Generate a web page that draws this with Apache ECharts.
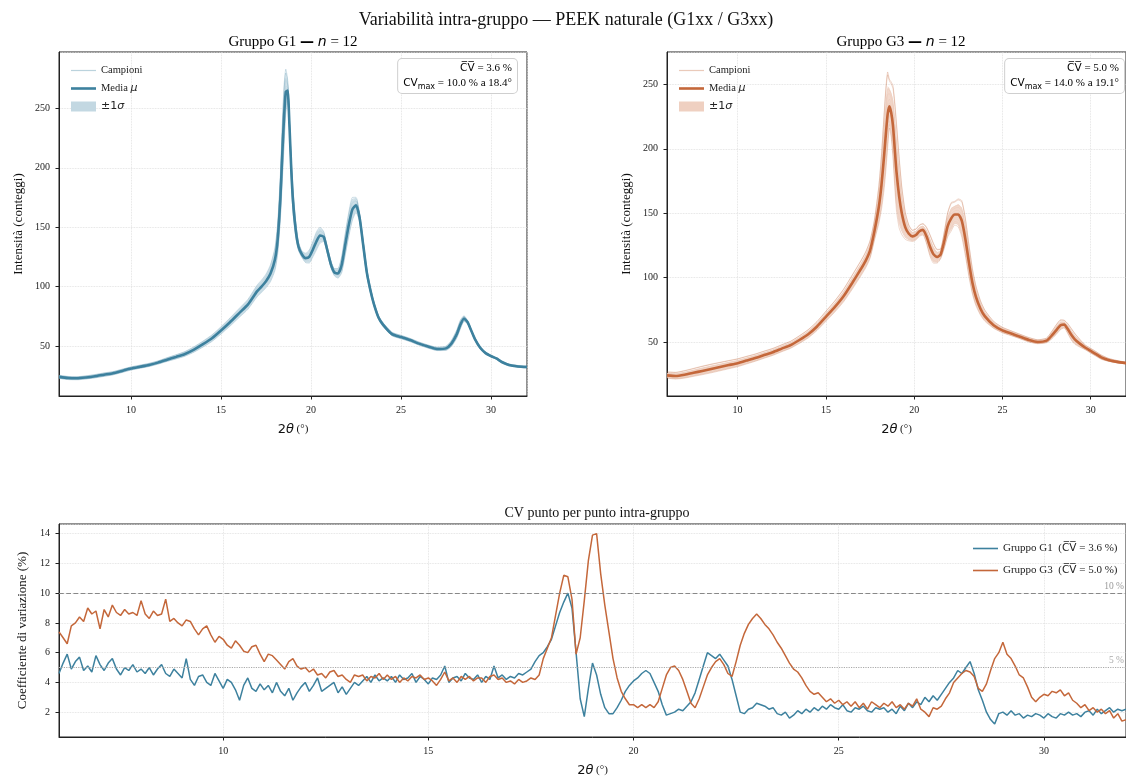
<!DOCTYPE html>
<html>
<head>
<meta charset="utf-8">
<script src="https://cdn.jsdelivr.net/npm/echarts@6/dist/echarts.min.js"></script>
<style>html,body{margin:0;padding:0;background:#fff}#chart{width:1126px;height:778px}</style>
</head>
<body>
<div id="chart"></div>
<script>
// 2theta grid of the averaged patterns (top panels)
var theta = [6, 6.5, 7, 7.5, 8, 8.5, 9, 9.5, 10, 10.5,
	11, 11.5, 12, 12.5, 13, 13.5, 14, 14.5, 15, 15.5,
	16, 16.5, 17, 17.25, 17.5, 17.75, 18, 18.15, 18.3, 18.4,
	18.5, 18.6, 18.7, 18.8, 18.9, 19.0, 19.15, 19.3, 19.5, 19.7,
	19.9, 20.1, 20.3, 20.5, 20.7, 20.9, 21.1, 21.3, 21.5, 21.7,
	21.9, 22.1, 22.3, 22.5, 22.7, 22.9, 23.1, 23.3, 23.5, 23.75,
	24, 24.5, 25, 25.5, 26, 26.5, 27, 27.5, 27.8, 28.1,
	28.3, 28.5, 28.7, 28.9, 29.1, 29.4, 29.7, 30, 30.3, 30.6,
	31, 31.5, 32];

var meanG1 = [24, 23, 22.8, 23.5, 24.5, 25.8, 27, 29, 31, 32.5,
	34, 36, 38.5, 40.8, 43.3, 47, 51.5, 56.5, 63, 70,
	77.5, 85, 96, 100, 104.5, 111, 123, 140, 175, 210,
	242, 264, 265, 237, 200, 172, 148, 134, 127, 124,
	125, 131, 138, 143, 142, 131, 119, 112, 111, 118,
	135, 152, 165, 168.5, 158, 135, 112, 97, 85, 74,
	68, 60, 57.5, 55, 52, 49.5, 47.5, 48, 52, 60,
	68, 73, 70, 63, 56, 48.5, 44, 41.5, 39.5, 36.5,
	34, 32.8, 32.3];

var meanG3 = [24, 23.5, 24.5, 26, 27.5, 29, 30.5, 32, 33.5, 35.5,
	37.5, 39.8, 42, 44.8, 47.5, 51.5, 56, 62, 69.5, 77,
	85.5, 96, 107, 113, 121, 136, 155, 172, 195, 212,
	227, 233, 228, 218, 200, 182, 163, 150, 139, 134,
	132, 133, 136, 137, 132, 124, 118, 116, 118, 128,
	140, 146, 149, 149, 144, 130, 112, 96, 85, 76,
	70, 63, 59, 56.5, 54, 51.5, 50, 51, 55, 60,
	63, 63.5, 60, 55.5, 52, 48.5, 45.5, 43, 40.5, 38,
	36, 34.5, 33.5];

// CV (%) on the same grid, used for the +-1 sigma band and the sample spread
var cvTopG1 = [5, 5, 5, 5, 5, 5, 4.5, 4.2, 3.8, 3.6,
	3.5, 3.3, 3.6, 3.8, 4, 4.2, 4.3, 4.3, 4.3, 4.3,
	4.3, 4.3, 4.5, 4.6, 4.8, 5.6, 6.8, 8, 9.4, 10,
	9.2, 6, 3, 1.8, 3.5, 5.2, 3.9, 2.3, 1.9, 2.8,
	3.8, 4.3, 4.8, 4.1, 2.6, 1.9, 2.1, 2.4, 3.2, 5,
	5.9, 5.8, 5.1, 3.3, 1.9, 2.3, 2.5, 2.2, 1.9, 1.8,
	2.1, 2.2, 2.2, 2.2, 2.2, 2.3, 2.6, 3.2, 4.3, 5,
	4.7, 2.9, 1.6, 1.5, 1.9, 1.8, 1.8, 1.7, 1.7, 1.9,
	2, 2.1, 2.2];

var cvTopG3 = [7.4, 8.3, 8.8, 8.8, 8.9, 8.6, 8, 7.4, 6.8, 6.2,
	5.6, 5.2, 4.8, 4.5, 4.3, 4.3, 4.3, 4.2, 4.2, 4.2,
	4.3, 4.3, 4.1, 4.1, 4.2, 4.4, 7, 9.2, 11.2, 11.2,
	9.6, 6, 7, 9.5, 12.2, 13.9, 12.5, 9.2, 5.6, 3.4,
	2.5, 2.4, 2.4, 2.4, 3.6, 5, 4.8, 3.4, 2.4, 3.7,
	5, 5.6, 4.6, 5.4, 7.3, 8.3, 8.3, 7.6, 6.7, 5.5,
	4.6, 3.2, 2.7, 2.5, 2.4, 2.5, 2.3, 2.6, 4, 4.8,
	4.4, 3.5, 4.8, 6, 6, 4.5, 3, 3.2, 3.3, 3.2,
	2.4, 2, 1.5];

// per-sample deviation from the mean, in units of sigma (12 samples per group)
var zG1 = [1.0, -0.9, 0.6, -0.4, 0.15, -0.1, 0.7, -0.6, 0.3, -0.2, 1.2, -1.1];
var zG3 = [1.4, -1.2, 0.7, -0.5, 0.2, -0.15, 0.9, -0.8, 0.4, -0.3, 1.5, -1.0];

// point-by-point CV (%), 2theta from 6.0 to 32.0 in 0.1 steps
var cvStart = 6, cvStep = 0.1;
var cvG1 = [4.6, 5.3, 5.9, 4.9, 5.4, 5.7, 4.8, 5.1, 4.7, 5.8,
	5.2, 4.8, 5.3, 5.6, 4.9, 4.5, 5.0, 4.8, 5.2, 4.7,
	4.9, 4.6, 5.0, 4.5, 4.9, 5.2, 4.6, 4.4, 4.9, 4.6,
	4.3, 5.6, 4.2, 3.8, 4.4, 4.5, 4.0, 3.8, 4.6, 4.1,
	3.6, 4.2, 4.0, 3.5, 2.8, 3.8, 4.3, 3.6, 3.4, 3.9,
	3.5, 3.8, 3.3, 4.0, 3.4, 3.1, 3.6, 2.8, 3.3, 3.7,
	4.0, 3.4, 3.8, 4.3, 3.4, 3.6, 3.8, 4.0, 3.3, 3.7,
	3.2, 3.6, 4.0, 3.8, 4.1, 4.4, 4.0, 4.5, 4.1, 4.3,
	4.1, 4.4, 4.0, 4.5, 4.2, 4.3, 4.6, 4.0, 4.4, 4.2,
	3.9, 4.3, 4.2, 4.5, 5.1, 4.0, 4.3, 4.4, 4.1, 4.6,
	4.3, 4.2, 4.5, 4.0, 4.4, 4.2, 5.1, 4.3, 4.5, 4.2,
	4.4, 4.3, 4.6, 4.5, 4.7, 4.9, 5.4, 5.8, 6.0, 6.4,
	6.9, 7.8, 8.7, 9.4, 10.0, 9.0, 6.0, 2.9, 1.7, 3.6,
	5.3, 4.5, 3.2, 2.3, 1.9, 1.9, 2.3, 2.8, 3.4, 3.8,
	4.1, 4.3, 4.6, 4.8, 4.6, 4.0, 3.4, 2.5, 1.8, 1.9,
	2.0, 2.2, 2.1, 2.4, 2.7, 3.3, 4.2, 5.1, 6.0, 5.8,
	5.6, 5.9, 5.5, 5.1, 4.2, 3.1, 2.0, 1.9, 2.2, 2.3,
	2.6, 2.5, 2.4, 2.2, 2.3, 1.9, 1.8, 2.0, 1.6, 1.8,
	2.1, 1.9, 2.2, 2.0, 2.3, 2.1, 2.4, 2.2, 2.5, 2.3,
	2.2, 2.5, 2.1, 2.0, 2.3, 2.2, 2.4, 2.1, 2.0, 2.3,
	2.2, 2.3, 2.0, 2.2, 1.9, 2.4, 2.1, 2.6, 2.3, 2.7,
	2.5, 3.0, 2.7, 3.1, 2.8, 3.2, 3.6, 4.0, 4.3, 4.8,
	4.6, 5.0, 5.4, 4.6, 3.5, 2.8, 2.0, 1.5, 1.2, 1.9,
	2.0, 1.8, 2.1, 1.8, 1.9, 1.6, 1.8, 1.7, 1.9, 1.8,
	1.6, 1.9, 1.7, 1.6, 1.9, 1.8, 2.0, 1.8, 1.9, 1.7,
	2.0, 2.1, 1.8, 2.2, 1.9, 2.1, 2.3, 2.0, 2.2, 2.1,
	2.2];

var cvG3 = [7.4, 7.0, 6.6, 7.8, 8.0, 8.4, 8.1, 9.0, 8.6, 8.8,
	7.6, 8.9, 8.4, 9.2, 8.7, 8.5, 8.9, 8.6, 8.7, 8.5,
	9.5, 8.6, 8.3, 8.8, 8.5, 8.6, 9.6, 8.1, 8.3, 8.0,
	7.8, 8.2, 8.1, 7.6, 7.2, 7.6, 7.8, 7.2, 6.7, 7.1,
	6.9, 6.5, 6.3, 6.8, 6.5, 6.1, 6.0, 6.4, 6.5, 5.9,
	5.4, 5.9, 5.8, 5.5, 5.2, 4.9, 5.4, 5.6, 5.1, 4.9,
	5.0, 4.7, 4.9, 4.5, 4.6, 4.3, 4.7, 4.8, 4.4, 4.5,
	4.2, 4.0, 4.5, 4.4, 4.5, 4.1, 4.4, 4.3, 4.6, 4.2,
	4.5, 4.2, 4.4, 4.0, 4.3, 4.1, 4.4, 4.3, 4.5, 4.2,
	4.3, 4.1, 3.8, 4.2, 4.7, 4.1, 4.3, 4.0, 4.4, 4.2,
	4.4, 4.1, 4.3, 4.3, 4.0, 4.4, 4.5, 4.2, 4.3, 4.0,
	4.1, 3.9, 4.2, 4.0, 4.1, 4.3, 4.2, 4.5, 5.6, 6.3,
	7.0, 8.5, 10.0, 11.2, 11.1, 9.6, 5.9, 7.0, 9.5, 12.2,
	13.9, 14.0, 11.3, 9.2, 7.4, 5.6, 4.3, 3.4, 2.9, 2.5,
	2.5, 2.3, 2.5, 2.3, 2.5, 2.3, 2.7, 3.6, 4.5, 5.0,
	5.1, 4.8, 4.2, 3.4, 2.6, 2.3, 2.9, 3.7, 4.5, 5.0,
	5.4, 5.6, 5.2, 4.6, 4.4, 5.4, 6.5, 7.3, 7.9, 8.3,
	8.6, 8.3, 7.9, 7.6, 7.2, 6.7, 6.3, 5.8, 5.3, 4.9,
	4.7, 4.3, 3.8, 3.4, 3.2, 3.3, 3.0, 2.7, 2.9, 2.6,
	2.8, 2.5, 2.7, 2.4, 2.7, 2.3, 2.6, 2.2, 2.7, 2.5,
	2.3, 2.6, 2.4, 2.7, 2.3, 2.5, 2.2, 2.6, 2.4, 2.9,
	2.2, 2.0, 1.7, 2.3, 2.2, 2.4, 2.9, 3.3, 4.0, 4.3,
	4.6, 4.8, 4.7, 4.4, 3.6, 3.4, 3.9, 4.8, 5.6, 6.0,
	6.7, 5.9, 5.6, 5.1, 4.5, 4.3, 3.7, 3.0, 2.7, 3.0,
	3.2, 3.1, 3.4, 3.3, 3.5, 3.1, 3.3, 2.8, 2.6, 2.3,
	2.5, 2.1, 2.3, 2.0, 2.2, 1.9, 2.1, 1.6, 1.9, 1.4,
	1.5];

var cvMeanG1 = '3.6', cvMeanG3 = '5.0';
var cvMaxG1 = ['10.0', '18.4'], cvMaxG3 = ['14.0', '19.1'];
var cvThresholds = [10, 5];

var SERIF = "'Liberation Serif', 'DejaVu Serif', serif";
var SANS = "'DejaVu Sans', sans-serif";
var BLUE = '#3d819e', ORANGE = '#c4673a';

function cvPairs(vals) {
	return vals.map(function(v, i) {
		return [+(cvStart + i * cvStep).toFixed(1), v];
	});
}

function panelSeries(idx, mean, cvt, z, color, sampleColor, bandColor, tag) {
	var out = [];
	z.forEach(function(zk) {
		out.push({
			name: 'Campioni' + tag, type: 'line', xAxisIndex: idx, yAxisIndex: idx,
			symbol: 'none', silent: true, z: 1, smooth: 0.2,
			lineStyle: { width: 1, color: sampleColor },
			itemStyle: { color: sampleColor },
			data: theta.map(function(x, i) { return [x, mean[i] * (1 + zk * cvt[i] / 100)]; })
		});
	});
	// +-1 sigma band, drawn as one polygon through the axis scales
	out.push({
		name: '±1σ' + tag, type: 'custom', xAxisIndex: idx, yAxisIndex: idx,
		silent: true, z: 2, itemStyle: { color: bandColor },
		data: [[theta[0], mean[0]]],
		renderItem: function(params, api) {
			var up = [], lo = [];
			theta.forEach(function(x, i) {
				up.push(api.coord([x, mean[i] * (1 + cvt[i] / 100)]));
				lo.push(api.coord([x, mean[i] * (1 - cvt[i] / 100)]));
			});
			return {
				type: 'polygon', shape: { points: up.concat(lo.reverse()) },
				style: { fill: bandColor, opacity: 0.8 }
			};
		}
	});
	out.push({
		name: 'Media' + tag, type: 'line', xAxisIndex: idx, yAxisIndex: idx,
		symbol: 'none', z: 3, smooth: 0.2,
		lineStyle: { width: 2.6, color: color }, itemStyle: { color: color },
		data: theta.map(function(x, i) { return [x, mean[i]]; })
	});
	return out;
}

var tickText = { fontFamily: SERIF, fontSize: 10, color: '#222' };
function xAx(idx, nameGap) {
	return {
		type: 'value', gridIndex: idx, min: 6, max: 32, splitNumber: 5,
		name: '{a|2}{b|θ}{c| (°)}', nameLocation: 'middle', nameGap: nameGap,
		nameTextStyle: { rich: {
			a: { fontFamily: SANS, fontSize: 13, color: '#111' },
			b: { fontFamily: SANS, fontSize: 13, fontStyle: 'italic', color: '#111' },
			c: { fontFamily: SERIF, fontSize: 11, color: '#111' } } },
		axisLine: { onZero: false, lineStyle: { color: '#222', width: 1 } },
		axisTick: { length: 3.5, lineStyle: { color: '#222' } },
		axisLabel: Object.assign({ showMinLabel: false, showMaxLabel: false, margin: 9 }, tickText),
		splitLine: { show: true, lineStyle: { type: 'dotted', color: '#dcdcdc', width: 0.8 } }
	};
}
function yAx(idx, min, max, split, name, nameGap) {
	return {
		type: 'value', gridIndex: idx, min: min, max: max, splitNumber: split,
		name: name, nameLocation: 'middle', nameGap: nameGap, nameRotate: 90,
		nameTextStyle: { fontFamily: SERIF, fontSize: 13, color: '#111' },
		axisLine: { show: true, onZero: false, lineStyle: { color: '#222', width: 1 } },
		axisTick: { show: true, length: 3.5, lineStyle: { color: '#222' } },
		axisLabel: Object.assign({ showMinLabel: false, showMaxLabel: false, margin: 9 }, tickText),
		splitLine: { show: true, lineStyle: { type: 'dotted', color: '#dcdcdc', width: 0.8 } }
	};
}

var legendRich = {
	t: { fontFamily: SERIF, fontSize: 10.5, color: '#222' },
	m: { fontFamily: SANS, fontSize: 11, fontStyle: 'italic', color: '#222' },
	p: { fontFamily: SANS, fontSize: 11, color: '#222' }
};
function legendFmt(name) {
	name = name.replace('\u200b', '');
	if (name === 'Media') return '{t|Media }{m|μ}';
	if (name === '±1σ') return '{p|±1}{m|σ}';
	return '{t|' + name + '}';
}
function topLegend(left, tag, color, sampleColor, bandColor) {
	return {
		orient: 'vertical', left: left, top: 60, itemGap: 7, itemWidth: 25, itemHeight: 10,
		formatter: legendFmt, textStyle: { rich: legendRich },
		data: [
			{ name: 'Campioni' + tag, icon: 'path://M0,4.4 L25,4.4 L25,5.6 L0,5.6 Z', itemStyle: { color: sampleColor } },
			{ name: 'Media' + tag, icon: 'path://M0,3.7 L25,3.7 L25,6.3 L0,6.3 Z', itemStyle: { color: color } },
			{ name: '±1σ' + tag, icon: 'rect', itemStyle: { color: bandColor } }
		]
	};
}

var boxRich = {
	o: { fontFamily: SANS, fontSize: 10.5, color: '#111', lineHeight: 15 },
	t: { fontFamily: SERIF, fontSize: 11, color: '#111', lineHeight: 15 },
	s: { fontFamily: SANS, fontSize: 8, color: '#111', lineHeight: 15, verticalAlign: 'bottom', padding: [4, 0, 0, 0] }
};
function statsBox(x, mean, max) {
	return {
		type: 'text', x: x, y: 59, z: 100,
		style: {
			text: '{o|C\u0305V\u0305}{t| = ' + mean + ' %}\n{o|CV}{s|max}{t| = ' + max[0] + ' % a ' + max[1] + '°}',
			align: 'right', verticalAlign: 'top', rich: boxRich,
			backgroundColor: '#fff', borderColor: '#cfcfcf', borderWidth: 1, borderRadius: 4,
			padding: [2, 5, 2, 5]
		}
	};
}
function subTitle(x, y, text) {
	return {
		type: 'text', x: x, y: y,
		style: {
			text: text, align: 'center', verticalAlign: 'middle',
			rich: {
				t: { fontFamily: SERIF, fontSize: 15, color: '#111' },
				d: { fontFamily: SANS, fontSize: 14, fontWeight: 'bold', color: '#111' },
				n: { fontFamily: SANS, fontSize: 14, fontStyle: 'italic', color: '#111' }
			}
		}
	};
}

var series = [].concat(
	panelSeries(0, meanG1, cvTopG1, zG1, BLUE, 'rgba(61,129,158,0.25)', '#c3d8e2', ''),
	panelSeries(1, meanG3, cvTopG3, zG3, ORANGE, 'rgba(196,103,58,0.25)', '#efd0c1', '\u200b'),
	[{
		name: 'Gruppo G1', type: 'line', xAxisIndex: 2, yAxisIndex: 2, symbol: 'none', z: 3,
		lineStyle: { width: 1.5, color: BLUE }, itemStyle: { color: BLUE },
		data: cvPairs(cvG1),
		markLine: {
			symbol: 'none', silent: true, animation: false,
			data: [{
				yAxis: cvThresholds[0],
				lineStyle: { type: 'dashed', color: '#888', width: 1.2 },
				label: { formatter: '10 %', position: 'insideEndTop', distance: 2, color: '#999', fontFamily: SERIF, fontSize: 9.5 }
			}, {
				yAxis: cvThresholds[1],
				lineStyle: { type: 'dotted', color: '#aaa', width: 1.2 },
				label: { formatter: '5 %', position: 'insideEndTop', distance: 2, color: '#aaa', fontFamily: SERIF, fontSize: 9.5 }
			}]
		}
	}, {
		name: 'Gruppo G3', type: 'line', xAxisIndex: 2, yAxisIndex: 2, symbol: 'none', z: 3,
		lineStyle: { width: 1.5, color: ORANGE }, itemStyle: { color: ORANGE },
		data: cvPairs(cvG3)
	}]
);

var chart = echarts.init(document.getElementById('chart'));
chart.setOption({
	animation: false,
	backgroundColor: '#fff',
	grid: [
		{ left: 59, top: 52, width: 468, height: 344, show: true, borderColor: '#222', borderWidth: 1 },
		{ left: 667, top: 52, width: 468, height: 344, show: true, borderColor: '#222', borderWidth: 1 },
		{ left: 59, top: 524, width: 1076, height: 215, show: true, borderColor: '#222', borderWidth: 1 }
	],
	xAxis: [xAx(0, 27), xAx(1, 27), xAx(2, 27)],
	yAxis: [
		yAx(0, 7.9, 297.5, 5, 'Intensità (conteggi)', 34),
		yAx(1, 8, 275.2, 5, 'Intensità (conteggi)', 34),
		yAx(2, 0.33, 14.65, 7, 'Coefficiente di variazione (%)', 27)
	],
	legend: [
		topLegend(66, '', BLUE, 'rgba(61,129,158,0.35)', '#c3d8e2'),
		topLegend(674, '\u200b', ORANGE, 'rgba(196,103,58,0.35)', '#efd0c1'),
		{
			orient: 'vertical', left: 968, top: 538, itemGap: 11, itemWidth: 25, itemHeight: 10,
			formatter: function(name) {
				var v = name === 'Gruppo G1' ? cvMeanG1 : cvMeanG3;
				return '{t|' + name + '  (}{o|C\u0305V\u0305}{t| = ' + v + ' %)}';
			},
			textStyle: { rich: { t: { fontFamily: SERIF, fontSize: 11, color: '#222' }, o: { fontFamily: SANS, fontSize: 10.5, color: '#222' } } },
			data: [
				{ name: 'Gruppo G1', icon: 'path://M0,4.2 L25,4.2 L25,5.8 L0,5.8 Z' },
				{ name: 'Gruppo G3', icon: 'path://M0,4.2 L25,4.2 L25,5.8 L0,5.8 Z' }
			]
		}
	],
	graphic: [
		{ type: 'text', x: 566, y: 20, style: { text: 'Variabilità intra-gruppo — PEEK naturale (G1xx / G3xx)', align: 'center', verticalAlign: 'middle', fontFamily: SERIF, fontSize: 18, fill: '#111' } },
		subTitle(293, 42, '{t|Gruppo G1 }{d|—}{t| }{n|n}{t| = 12}'),
		subTitle(901, 42, '{t|Gruppo G3 }{d|—}{t| }{n|n}{t| = 12}'),
		{ type: 'text', x: 597, y: 513, style: { text: 'CV punto per punto intra-gruppo', align: 'center', verticalAlign: 'middle', fontFamily: SERIF, fontSize: 14, fill: '#111' } },
		statsBox(517, cvMeanG1, cvMaxG1),
		statsBox(1124, cvMeanG3, cvMaxG3)
	],
	series: series
});
</script>
</body>
</html>
